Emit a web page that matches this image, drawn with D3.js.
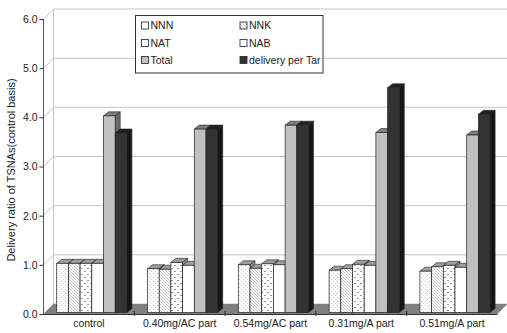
<!DOCTYPE html>
<html>
<head>
<meta charset="utf-8">
<script src="https://cdn.jsdelivr.net/npm/d3@7/dist/d3.min.js"></script>
<style>
  html, body { margin: 0; padding: 0; background: #fff; }
  svg { display: block; font-family: "Liberation Sans", Arial, sans-serif; }
</style>
</head>
<body>
<svg id="chart" width="507" height="333"></svg>
<script>
// Delivery ratio of TSNAs relative to the control, per treatment
const categories = ["control", "0.40mg/AC part", "0.54mg/AC part", "0.31mg/A part", "0.51mg/A part"];
const seriesNames = ["NNN", "NNK", "NAT", "NAB", "Total", "delivery per Tar"];
const NNN   = [1.00, 0.89, 0.97, 0.86, 0.84];
const NNK   = [1.00, 0.88, 0.90, 0.89, 0.93];
const NAT   = [1.00, 1.02, 0.99, 0.98, 0.96];
const NAB   = [1.00, 0.96, 0.97, 0.96, 0.92];
const Total = [4.00, 3.73, 3.81, 3.66, 3.61];
const Tar   = [3.65, 3.73, 3.81, 4.57, 4.03];
const yTicks = [0, 1, 2, 3, 4, 5, 6];
const yTitle = "Delivery ratio of TSNAs(control basis)";

const values = [NNN, NNK, NAT, NAB, Total, Tar];

const svg = d3.select("#chart");

// 3D geometry: wall depth and bar depth offsets
const wallDX = 10, wallDY = -10;
const barDX = 5, barDY = -4;
const barShiftX = 1, barShiftY = -1.5;

const x = d3.scaleBand().domain(categories).range([43.5, 497.5]).paddingInner(0).paddingOuter(0);
const xs = d3.scaleBand().domain(seriesNames).range([12.2, 12.2 + 70.2]).padding(0);
const y = d3.scaleLinear().domain([0, 6]).range([314, 19]);

// fill patterns
const defs = svg.append("defs");
const pDots = defs.append("pattern").attr("id", "pDots").attr("patternUnits", "userSpaceOnUse")
  .attr("width", 4).attr("height", 4);
pDots.append("rect").attr("width", 4).attr("height", 4).attr("fill", "#fff");
pDots.append("rect").attr("x", 1).attr("y", 1).attr("width", 1).attr("height", 1).attr("fill", "#bdbdbd");
pDots.append("rect").attr("x", 3).attr("y", 3).attr("width", 1).attr("height", 1).attr("fill", "#d6d6d6");

const pHatch = defs.append("pattern").attr("id", "pHatch").attr("patternUnits", "userSpaceOnUse")
  .attr("width", 3).attr("height", 3);
pHatch.append("rect").attr("width", 3).attr("height", 3).attr("fill", "#fff");
pHatch.append("path").attr("d", "M0,0L3,3M-1,2L1,4M2,-1L4,1").attr("stroke", "#b5b5b5").attr("stroke-width", 0.8);

const pDash = defs.append("pattern").attr("id", "pDash").attr("patternUnits", "userSpaceOnUse")
  .attr("width", 6).attr("height", 6);
pDash.append("rect").attr("width", 6).attr("height", 6).attr("fill", "#fff");
pDash.append("rect").attr("x", 0).attr("y", 1).attr("width", 2).attr("height", 1).attr("fill", "#9a9a9a");
pDash.append("rect").attr("x", 3).attr("y", 4).attr("width", 2).attr("height", 1).attr("fill", "#9a9a9a");

const styles = [
  { front: "url(#pDots)",  top: "#9d9d9d", side: "#8a8a8a", swatch: "#fff" },
  { front: "url(#pHatch)", top: "#9d9d9d", side: "#8a8a8a", swatch: "url(#pHatch)" },
  { front: "url(#pDash)",  top: "#9d9d9d", side: "#8a8a8a", swatch: "#fff" },
  { front: "#ffffff",      top: "#9d9d9d", side: "#8a8a8a", swatch: "#fff" },
  { front: "#c0c0c0",      top: "#7d7d7d", side: "#6a6a6a", swatch: "#c0c0c0" },
  { front: "#333333",      top: "#222222", side: "#161616", swatch: "#333333" }
];

// back wall, side wall gridlines
const xL = x.range()[0], xR = x.range()[1];
const grid = svg.append("g");
grid.selectAll("line.back").data(yTicks).join("line")
  .attr("x1", xL + wallDX).attr("x2", 507 + 1)
  .attr("y1", d => y(d) + wallDY).attr("y2", d => y(d) + wallDY)
  .attr("stroke", "#c4c4c4").attr("stroke-width", 1);
grid.selectAll("line.side").data(yTicks).join("line")
  .attr("x1", xL).attr("x2", xL + wallDX)
  .attr("y1", d => y(d)).attr("y2", d => y(d) + wallDY)
  .attr("stroke", "#c4c4c4").attr("stroke-width", 1);
grid.append("line")
  .attr("x1", xL + wallDX).attr("x2", xL + wallDX)
  .attr("y1", y(6) + wallDY).attr("y2", y(0) + wallDY)
  .attr("stroke", "#c4c4c4");

// floor
svg.append("path")
  .attr("d", `M${xL},${y(0)}L${xR},${y(0)}L${xR + wallDX},${y(0) + wallDY}L${xL + wallDX},${y(0) + wallDY}Z`)
  .attr("fill", "#808080");

// category tick marks on the floor
svg.selectAll("line.ctick").data(categories.slice(1)).join("line")
  .attr("x1", d => x(d)).attr("x2", d => x(d))
  .attr("y1", y(0) - 3).attr("y2", y(0) + 2)
  .attr("stroke", "#222");

// bars
const bars = svg.append("g");
categories.forEach((cat, ci) => {
  seriesNames.forEach((s, si) => {
    const v = values[si][ci];
    const x0 = x(cat) + xs(s) + barShiftX;
    const w = xs.bandwidth();
    const yb = y(0) + barShiftY;
    const yt = y(v) + barShiftY;
    const st = styles[si];
    const g = bars.append("g");
    // top cap
    g.append("path")
      .attr("d", `M${x0},${yt}L${x0 + barDX},${yt + barDY}L${x0 + w + barDX},${yt + barDY}L${x0 + w},${yt}Z`)
      .attr("fill", st.top).attr("stroke", "#222").attr("stroke-width", 0.6);
    // right side
    g.append("path")
      .attr("d", `M${x0 + w},${yt}L${x0 + w + barDX},${yt + barDY}L${x0 + w + barDX},${yb + barDY}L${x0 + w},${yb}Z`)
      .attr("fill", st.side).attr("stroke", "#222").attr("stroke-width", 0.6);
    // front face
    g.append("rect")
      .attr("x", x0).attr("y", yt).attr("width", w).attr("height", yb - yt)
      .attr("fill", st.front).attr("stroke", "#222").attr("stroke-width", 0.7);
  });
});

// front axis line and floor edge
svg.append("line").attr("x1", xL).attr("x2", xL).attr("y1", y(6)).attr("y2", y(0))
  .attr("stroke", "#555").attr("stroke-width", 1);
svg.append("line").attr("x1", xL).attr("x2", xR).attr("y1", y(0) + 0.5).attr("y2", y(0) + 0.5)
  .attr("stroke", "#333").attr("stroke-width", 1);

// y axis ticks and labels
const yAxis = d3.axisLeft(y).tickValues(yTicks).tickSize(4).tickFormat(d3.format(".1f"));
const ya = svg.append("g").attr("transform", `translate(${xL},0)`).call(yAxis);
ya.select(".domain").remove();
ya.selectAll(".tick line").attr("stroke", "#333");
ya.selectAll(".tick text").attr("x", -6).attr("font-size", 10.5)
  .attr("font-family", "Liberation Sans, Arial, sans-serif").attr("fill", "#222");

// category labels
svg.selectAll("text.cat").data(categories).join("text")
  .attr("class", "cat")
  .attr("x", d => x(d) + x.bandwidth() / 2)
  .attr("y", 327)
  .attr("text-anchor", "middle")
  .attr("font-size", 10.5).attr("fill", "#222")
  .text(d => d);

// y axis title
svg.append("text")
  .attr("transform", `translate(15,170) rotate(-90)`)
  .attr("text-anchor", "middle")
  .attr("font-size", 11).attr("fill", "#222")
  .text(yTitle);

// legend
const lg = svg.append("g");
lg.append("rect").attr("x", 135.5).attr("y", 15.5).attr("width", 187.5).attr("height", 57.5)
  .attr("fill", "#fff").attr("stroke", "#333").attr("stroke-width", 1);
const legendRows = [25.5, 43, 60];
const legendCols = [141.5, 240];
seriesNames.forEach((s, i) => {
  const cx = legendCols[i % 2], cy = legendRows[Math.floor(i / 2)];
  lg.append("rect").attr("x", cx).attr("y", cy - 3.5).attr("width", 7).attr("height", 7)
    .attr("fill", styles[i].swatch).attr("stroke", "#222").attr("stroke-width", 0.8);
  lg.append("text").attr("x", cx + 9).attr("y", cy + 3.6)
    .attr("font-size", 10.5).attr("fill", "#222").text(s);
});
</script>
</body>
</html>
